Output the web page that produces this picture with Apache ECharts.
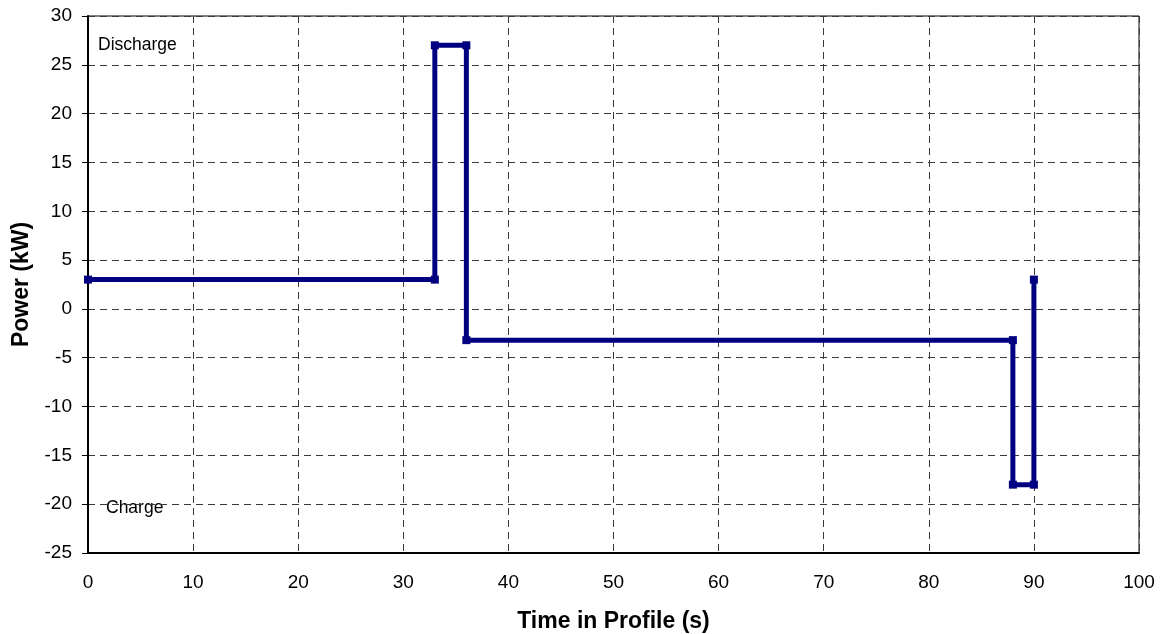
<!DOCTYPE html>
<html>
<head>
<meta charset="utf-8">
<script src="https://cdn.jsdelivr.net/npm/echarts@6/dist/echarts.min.js"></script>
<style>
html,body{margin:0;padding:0;background:#fff;}
#chart{width:1160px;height:634px;}
</style>
</head>
<body>
<div id="chart"></div>
<script>
// Data
var timeValues = [0, 33, 33, 36, 36, 88, 88, 90, 90];
var powerValues = [3, 3, 27, 27, -3.2, -3.2, -18, -18, 3];
var xAxisTitle = 'Time in Profile (s)';
var yAxisTitle = 'Power (kW)';
var annotations = ['Discharge', 'Charge'];

var seriesData = timeValues.map(function (t, i) { return [t, powerValues[i]]; });

var chart = echarts.init(document.getElementById('chart'), null, {renderer: 'canvas'});
var font = 'Liberation Sans, Arial, sans-serif';
var gridDash = {color: '#3a3a3a', width: 1, type: [7, 5]};

chart.setOption({
  animation: false,
  backgroundColor: '#fff',
  grid: {left: 88, right: 21, top: 16, bottom: 81, containLabel: false, outerBoundsMode: 'none',
         show: true, borderColor: '#000', borderWidth: 1, backgroundColor: 'transparent'},
  xAxis: {
    type: 'value', min: 0, max: 100, interval: 10,
    name: xAxisTitle, nameLocation: 'middle', nameGap: 57,
    nameTextStyle: {fontFamily: font, fontSize: 23, fontWeight: 'bold', color: '#000'},
    axisLine: {show: true, onZero: false, lineStyle: {color: '#000', width: 2}},
    axisTick: {show: false},
    axisLabel: {fontFamily: font, fontSize: 19, color: '#000', margin: 20},
    splitLine: {show: true, lineStyle: gridDash}
  },
  yAxis: {
    type: 'value', min: -25, max: 30, interval: 5,
    name: yAxisTitle, nameLocation: 'middle', nameGap: 52,
    nameTextStyle: {fontFamily: font, fontSize: 23, fontWeight: 'bold', color: '#000'},
    axisLine: {show: true, onZero: false, lineStyle: {color: '#000', width: 2}},
    axisTick: {show: true, inside: false, length: 6, lineStyle: {color: '#000', width: 1}},
    axisLabel: {fontFamily: font, fontSize: 19, color: '#000', margin: 16},
    splitLine: {show: true, lineStyle: gridDash}
  },
  series: [{
    type: 'line',
    data: seriesData,
    symbol: 'rect',
    symbolSize: 8,
    showAllSymbol: true,
    lineStyle: {color: '#000080', width: 5},
    itemStyle: {color: '#000080'},
    z: 5
  }],
  graphic: [
    {type: 'text', left: 98, top: 36, style: {text: annotations[0], font: '17.5px ' + font, fill: '#000'}},
    {type: 'text', left: 106, top: 499, style: {text: annotations[1], font: '17.5px ' + font, fill: '#000'}}
  ]
});
</script>
</body>
</html>
